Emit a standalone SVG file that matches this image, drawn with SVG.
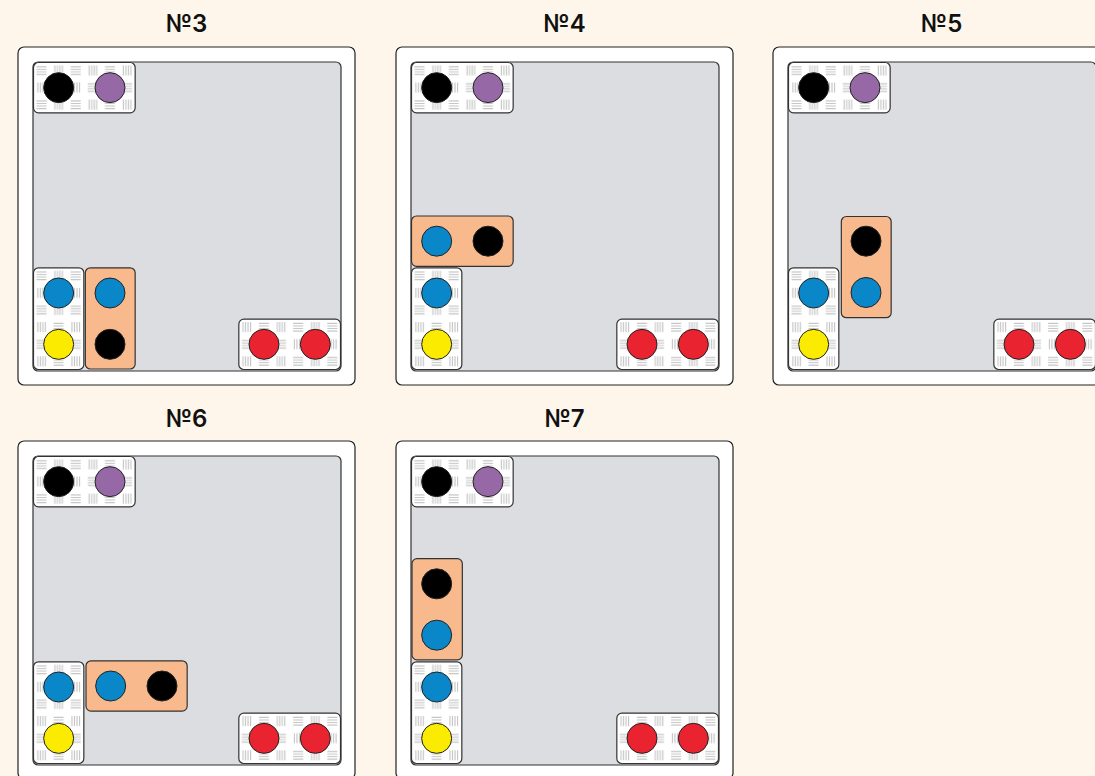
<svg xmlns="http://www.w3.org/2000/svg" width="1095" height="776" viewBox="0 0 1095 776">
<style>
.title{font-family:Inter,Roboto,"Liberation Sans",sans-serif;font-weight:600;font-size:24px;fill:#111;text-anchor:middle}
.outer{fill:#fff;stroke:#222;stroke-width:1.2}
.board{fill:#dcdde0;stroke:#333;stroke-width:1.2}
.tile{fill:url(#weave);stroke:#333;stroke-width:1.2}
.orange{fill:#f8b98c;stroke:#333;stroke-width:1.2}
.dot{stroke:#222;stroke-width:1}
.k{fill:#000}.p{fill:#9668a6}.b{fill:#0a87c9}.y{fill:#fbeb00}.r{fill:#e92330}
</style>
<defs>
<pattern id="weave" width="34.22" height="34.22" patternUnits="userSpaceOnUse">
<rect width="34.22" height="34.22" fill="#fff"/>
<g stroke="#c4c4c4" stroke-width="1.1">
<path d="M3.5 4.8H13.5M3.5 7.3H13.5M3.5 9.8H13.5M3.5 12.3H13.5"/>
<path d="M21.9 3.5V13.5M24.4 3.5V13.5M26.9 3.5V13.5M29.4 3.5V13.5"/>
<path d="M4.8 20.6V30.6M7.3 20.6V30.6M9.8 20.6V30.6M12.3 20.6V30.6"/>
<path d="M20.6 21.9H30.6M20.6 24.4H30.6M20.6 26.9H30.6M20.6 29.4H30.6"/>
</g>
</pattern>
</defs>
<rect width="1095" height="776" fill="#fef6eb"/>

<g id="panel3">
<text class="title" x="186.5" y="32">№3</text>
<rect class="outer" x="18" y="47" width="337" height="338" rx="6"/>
<g transform="translate(33,62)">
<rect class="board" x="0" y="0" width="308" height="309" rx="5"/>
<g id="p3-top"><rect class="tile" x="0.5" y="0.5" width="101.67" height="50.33" rx="5"/><circle class="dot k" cx="25.67" cy="25.67" r="15"/><circle class="dot p" cx="77" cy="25.67" r="15"/></g>
<g id="p3-left"><rect class="tile" x="0.5" y="205.83" width="50.33" height="101.67" rx="5"/><circle class="dot b" cx="25.67" cy="231" r="15"/><circle class="dot y" cx="25.67" cy="282.33" r="15"/></g>
<g id="p3-red"><rect class="tile" x="205.83" y="257.17" width="101.67" height="50.33" rx="5"/><circle class="dot r" cx="231" cy="282.33" r="15"/><circle class="dot r" cx="282.33" cy="282.33" r="15"/></g>
<g id="p3-orange"><rect class="orange" x="52.33" y="205.83" width="49.83" height="101.17" rx="5"/><circle class="dot b" cx="77" cy="231" r="15"/><circle class="dot k" cx="77" cy="282.33" r="15"/></g>
</g>
</g>

<g id="panel4">
<text class="title" x="564.5" y="32">№4</text>
<rect class="outer" x="396" y="47" width="337" height="338" rx="6"/>
<g transform="translate(411,62)">
<rect class="board" x="0" y="0" width="308" height="309" rx="5"/>
<g id="p4-top"><rect class="tile" x="0.5" y="0.5" width="101.67" height="50.33" rx="5"/><circle class="dot k" cx="25.67" cy="25.67" r="15"/><circle class="dot p" cx="77" cy="25.67" r="15"/></g>
<g id="p4-left"><rect class="tile" x="0.5" y="205.83" width="50.33" height="101.67" rx="5"/><circle class="dot b" cx="25.67" cy="231" r="15"/><circle class="dot y" cx="25.67" cy="282.33" r="15"/></g>
<g id="p4-red"><rect class="tile" x="205.83" y="257.17" width="101.67" height="50.33" rx="5"/><circle class="dot r" cx="231" cy="282.33" r="15"/><circle class="dot r" cx="282.33" cy="282.33" r="15"/></g>
<g id="p4-orange"><rect class="orange" x="0.5" y="154" width="101.67" height="50.33" rx="5"/><circle class="dot b" cx="25.67" cy="179.17" r="15"/><circle class="dot k" cx="77" cy="179.17" r="15"/></g>
</g>
</g>

<g id="panel5">
<text class="title" x="941.5" y="32">№5</text>
<rect class="outer" x="773" y="47" width="337" height="338" rx="6"/>
<g transform="translate(788,62)">
<rect class="board" x="0" y="0" width="308" height="309" rx="5"/>
<g id="p5-top"><rect class="tile" x="0.5" y="0.5" width="101.67" height="50.33" rx="5"/><circle class="dot k" cx="25.67" cy="25.67" r="15"/><circle class="dot p" cx="77" cy="25.67" r="15"/></g>
<g id="p5-left"><rect class="tile" x="0.5" y="205.83" width="50.33" height="101.67" rx="5"/><circle class="dot b" cx="25.67" cy="231" r="15"/><circle class="dot y" cx="25.67" cy="282.33" r="15"/></g>
<g id="p5-red"><rect class="tile" x="205.83" y="257.17" width="101.67" height="50.33" rx="5"/><circle class="dot r" cx="231" cy="282.33" r="15"/><circle class="dot r" cx="282.33" cy="282.33" r="15"/></g>
<g id="p5-orange"><rect class="orange" x="53.33" y="154.5" width="49.83" height="101.17" rx="5"/><circle class="dot k" cx="78" cy="179.17" r="15"/><circle class="dot b" cx="78" cy="230.5" r="15"/></g>
</g>
</g>

<g id="panel6">
<text class="title" x="186.5" y="427">№6</text>
<rect class="outer" x="18" y="441" width="337" height="338" rx="6"/>
<g transform="translate(33,456)">
<rect class="board" x="0" y="0" width="308" height="309" rx="5"/>
<g id="p6-top"><rect class="tile" x="0.5" y="0.5" width="101.67" height="50.33" rx="5"/><circle class="dot k" cx="25.67" cy="25.67" r="15"/><circle class="dot p" cx="77" cy="25.67" r="15"/></g>
<g id="p6-left"><rect class="tile" x="0.5" y="205.83" width="50.33" height="101.67" rx="5"/><circle class="dot b" cx="25.67" cy="231" r="15"/><circle class="dot y" cx="25.67" cy="282.33" r="15"/></g>
<g id="p6-red"><rect class="tile" x="205.83" y="257.17" width="101.67" height="50.33" rx="5"/><circle class="dot r" cx="231" cy="282.33" r="15"/><circle class="dot r" cx="282.33" cy="282.33" r="15"/></g>
<g id="p6-orange"><rect class="orange" x="53" y="204.83" width="101.17" height="50.33" rx="5"/><circle class="dot b" cx="77.67" cy="230" r="15"/><circle class="dot k" cx="129" cy="230" r="15"/></g>
</g>
</g>

<g id="panel7">
<text class="title" x="564.5" y="427">№7</text>
<rect class="outer" x="396" y="441" width="337" height="338" rx="6"/>
<g transform="translate(411,456)">
<rect class="board" x="0" y="0" width="308" height="309" rx="5"/>
<g id="p7-top"><rect class="tile" x="0.5" y="0.5" width="101.67" height="50.33" rx="5"/><circle class="dot k" cx="25.67" cy="25.67" r="15"/><circle class="dot p" cx="77" cy="25.67" r="15"/></g>
<g id="p7-left"><rect class="tile" x="0.5" y="205.83" width="50.33" height="101.67" rx="5"/><circle class="dot b" cx="25.67" cy="231" r="15"/><circle class="dot y" cx="25.67" cy="282.33" r="15"/></g>
<g id="p7-red"><rect class="tile" x="205.83" y="257.17" width="101.67" height="50.33" rx="5"/><circle class="dot r" cx="231" cy="282.33" r="15"/><circle class="dot r" cx="282.33" cy="282.33" r="15"/></g>
<g id="p7-orange"><rect class="orange" x="1" y="102.67" width="50.33" height="101.17" rx="5"/><circle class="dot k" cx="25.67" cy="127.83" r="15"/><circle class="dot b" cx="25.67" cy="179.17" r="15"/></g>
</g>
</g>
</svg>
